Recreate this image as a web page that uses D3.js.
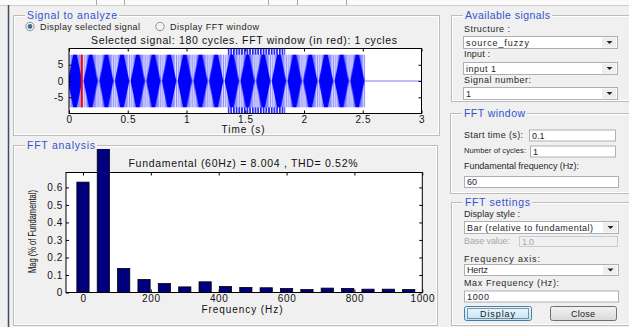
<!DOCTYPE html>
<html>
<head>
<meta charset="utf-8">
<script src="https://cdn.jsdelivr.net/npm/d3@7"></script>
<style>
  body { margin: 0; background: #f0f0f0; }
  svg { display: block; font-family: 'Liberation Sans', Arial, sans-serif; }
</style>
</head>
<body>
<div id="gui"></div>
<script>
// upper axes: selected signal
const timeTicks = [0, 0.5, 1, 1.5, 2, 2.5, 3];
const ampTicks = [-5, 0, 5];
const signalEnd = 2.52;     // signal stops here, flat line after
const signalPeak = 8.1;
const swellStart = 1.35, swellEnd = 1.84, swellPeak = 12;
const fftStart = 0.1, fftCycles = 1, fundHz = 60;

// lower axes: harmonic magnitudes (% of fundamental)
const harmFreq = [0, 60, 120, 180, 240, 300, 360, 420, 480, 540, 600, 660, 720, 780, 840, 900, 960];
const harmMag = [0.63, 100, 0.137, 0.074, 0.051, 0.032, 0.061, 0.034, 0.029, 0.027, 0.023, 0.017, 0.025, 0.023, 0.019, 0.019, 0.017];
const freqTicks = [0, 200, 400, 600, 800, 1000];
const magTicks = [0, 0.1, 0.2, 0.3, 0.4, 0.5, 0.6];

const W = 629, H = 327;
const svg = d3.select('#gui').append('svg')
  .attr('width', W)
  .attr('height', H);

const defs = svg.append('defs');

// text helper, w = wanted width (spreads letters like the old GUI font)
function txt(parent, x, y, s, o) {
  o = o || {};
  const t = parent.append('text').attr('x', x).attr('y', y).attr('dy', '0.35em')
    .attr('font-size', o.size || 9).attr('fill', o.fill || '#222')
    .attr('text-anchor', o.anchor || 'start').text(s);
  if (o.w) t.attr('textLength', o.w).attr('lengthAdjust', 'spacing');
  return t;
}

// window chrome
svg.append('rect').attr('width', W).attr('height', 5).attr('fill', '#fbfbfb');
svg.append('line').attr('x1', 0).attr('x2', W).attr('y1', 5.5).attr('y2', 5.5).attr('stroke', '#cfcfcf');
[96, 124, 268, 297, 346].forEach(x => {
  svg.append('line').attr('x1', x + 0.5).attr('x2', x + 0.5).attr('y1', 0).attr('y2', 5)
    .attr('stroke', '#a8a8a8');
});
svg.append('line').attr('x1', 8.5).attr('x2', 8.5).attr('y1', 5).attr('y2', H)
  .attr('stroke', '#3e4d60').attr('stroke-width', 1.5);

// group box with etched border and blue title
function groupBox(x, y, w, h, title, tw) {
  const g = svg.append('g');
  g.append('rect').attr('x', x + 0.5).attr('y', y + 0.5).attr('width', w).attr('height', h)
    .attr('fill', 'none').attr('stroke', '#bcbcbc');
  g.append('rect').attr('x', x + 1.5).attr('y', y + 1.5).attr('width', w - 2).attr('height', h - 2)
    .attr('fill', 'none').attr('stroke', '#ffffff');
  g.append('rect').attr('x', x + 12).attr('y', y - 5).attr('width', tw + 4).attr('height', 11)
    .attr('fill', '#f0f0f0');
  txt(g, x + 14, y + 0.5, title, { size: 10.5, fill: '#3353cc', w: tw });
}

groupBox(13, 15, 426, 120, 'Signal to analyze', 90);
groupBox(13, 145, 424, 180, 'FFT analysis', 68);
groupBox(451, 15, 200, 86, 'Available signals', 85);
groupBox(450, 113, 200, 80, 'FFT window', 61);
groupBox(451, 202, 200, 123, 'FFT settings', 65);

// small widgets
function label(x, y, s, w, disabled, size) {
  return txt(svg, x, y, s, { w: w, fill: disabled ? '#a9a9a9' : '#262626', size: size });
}
function editBox(x, y, w, h, s, tw, disabled) {
  svg.append('rect').attr('x', x + 0.5).attr('y', y + 0.5).attr('width', w).attr('height', h)
    .attr('fill', disabled ? '#f0f0f0' : '#fff').attr('stroke', disabled ? '#cbcbcb' : '#abb0b8');
  label(x + 3, y + h / 2 + 0.5, s, tw, disabled);
}
function dropDown(x, y, w, h, s, tw) {
  editBox(x, y, w, h, s, tw);
  svg.append('rect').attr('x', x + w - 15).attr('y', y + 1.5).attr('width', 14).attr('height', h - 2)
    .attr('fill', '#eeeeee');
  const cx = x + w - 7.5, cy = y + h / 2 + 0.5;
  svg.append('path').attr('d', `M${cx - 3},${cy - 1.5}L${cx + 3},${cy - 1.5}L${cx},${cy + 1.5}Z`)
    .attr('fill', '#222');
}
function button(x, y, w, h, s, tw, focused) {
  const grad = 'btn' + s;
  const lg = defs.append('linearGradient').attr('id', grad).attr('x1', 0).attr('x2', 0).attr('y1', 0).attr('y2', 1);
  lg.append('stop').attr('offset', 0).attr('stop-color', focused ? '#eaf6fd' : '#f2f2f2');
  lg.append('stop').attr('offset', 1).attr('stop-color', focused ? '#c4e5f6' : '#d9d9d9');
  svg.append('rect').attr('x', x + 0.5).attr('y', y + 0.5).attr('width', w).attr('height', h).attr('rx', 2)
    .attr('fill', `url(#${grad})`).attr('stroke', focused ? '#3c7fb1' : '#707070');
  if (focused) {
    svg.append('rect').attr('x', x + 3.5).attr('y', y + 2.5).attr('width', w - 6).attr('height', h - 4)
      .attr('fill', 'none').attr('stroke', '#333').attr('stroke-dasharray', '1,1');
  }
  txt(svg, x + w / 2, y + h / 2 + 0.5, s, { anchor: 'middle', w: tw });
}

// radio buttons
function radio(cx, cy, on) {
  svg.append('circle').attr('cx', cx).attr('cy', cy).attr('r', 4.2)
    .attr('fill', '#f4f4f4').attr('stroke', '#8e8f8f');
  if (on) {
    svg.append('circle').attr('cx', cx).attr('cy', cy).attr('r', 2.4).attr('fill', '#3f6f9e');
  }
}
radio(30, 26.5, true);
label(40, 26.5, 'Display selected signal', 100);
radio(160, 26.5, false);
label(170, 26.5, 'Display FFT window', 89);

// right side controls
label(464, 29, 'Structure :', 46);
dropDown(463, 36, 154, 12, 'source_fuzzy', 63);
label(464, 54, 'Input :', 26);
dropDown(463, 62, 154, 12, 'input 1', 30);
label(464, 79.5, 'Signal number:', 67);
dropDown(463, 87, 154, 12, '1');

label(464, 135, 'Start time (s):', 59);
editBox(529, 129.5, 86, 11, '0.1');
label(464, 150, 'Number of cycles:', 62, false, 7.6);
editBox(530, 145.5, 85, 11, '1');
label(464, 166, 'Fundamental frequency (Hz):', 115);
editBox(464, 176, 154, 11, '60');

label(464, 213.5, 'Display style :', 56);
dropDown(464, 221, 154, 12, 'Bar (relative to fundamental)', 126);
label(464, 241, 'Base value:', 46, true);
editBox(519, 236, 98, 10, '1.0', 12, true);
label(464, 258.5, 'Frequency axis:', 76);
dropDown(464, 264, 154, 11, 'Hertz', 21);
label(464, 282.5, 'Max Frequency (Hz):', 95);
editBox(464, 290.5, 154, 11, '1000', 22);
button(464, 306, 67, 14, 'Display', 35, true);
button(550, 306, 66, 14, 'Close', 24, false);

function styleAxis(g) {
  g.select('.domain').remove();
  g.selectAll('line').attr('stroke', '#000');
  g.selectAll('text').attr('font-size', 10).attr('letter-spacing', 0.6).attr('fill', '#111');
}

// ---------- upper axes ----------
const xUp = d3.scaleLinear().domain([0, 3]).range([69, 421.5]);
const yUp = d3.scaleLinear().domain([-10, 10]).range([113.5, 48.5]);
const up = svg.append('g');

up.append('rect').attr('x', xUp(0)).attr('y', yUp(10)).attr('width', xUp(3) - xUp(0))
  .attr('height', yUp(-10) - yUp(10)).attr('fill', '#fff');

defs.append('clipPath').attr('id', 'clipUp').append('rect')
  .attr('x', xUp(0)).attr('y', yUp(10)).attr('width', xUp(3) - xUp(0)).attr('height', yUp(-10) - yUp(10));

// aliasing texture of the 60 Hz trace (beat pattern)
const beatW = xUp(0.1335) - xUp(0);
const bandH = yUp(-signalPeak) - yUp(signalPeak);
const beat = defs.append('pattern').attr('id', 'beat').attr('patternUnits', 'userSpaceOnUse')
  .attr('x', xUp(0) - beatW / 2 + 6).attr('y', yUp(signalPeak)).attr('width', beatW).attr('height', bandH);
beat.append('rect').attr('width', beatW).attr('height', bandH).attr('fill', '#8c8cff');
[0.3, 2.4, beatW - 2.2].forEach(x => {
  beat.append('rect').attr('x', x).attr('width', 0.9).attr('height', bandH).attr('fill', '#fff');
});
const c = beatW / 2;
beat.append('path')
  .attr('d', `M${c - 1.8},0L${c + 1.8},0L${c + 7.2},${bandH * 0.5}L${c + 1.8},${bandH}L${c - 1.8},${bandH}L${c - 7.2},${bandH * 0.5}Z`)
  .attr('fill', '#0000ff');

const stripes = defs.append('pattern').attr('id', 'stripes').attr('patternUnits', 'userSpaceOnUse')
  .attr('x', xUp(swellStart)).attr('y', 0).attr('width', 2.7).attr('height', 10);
stripes.append('rect').attr('width', 2.7).attr('height', 10).attr('fill', '#fff');
stripes.append('rect').attr('width', 1.7).attr('height', 10).attr('fill', '#1e1eff');

up.append('rect').attr('clip-path', 'url(#clipUp)')
  .attr('x', xUp(swellStart)).attr('width', xUp(swellEnd) - xUp(swellStart))
  .attr('y', yUp(swellPeak)).attr('height', yUp(-swellPeak) - yUp(swellPeak))
  .attr('fill', 'url(#stripes)');

up.append('rect')
  .attr('x', xUp(0)).attr('width', xUp(signalEnd) - xUp(0))
  .attr('y', yUp(signalPeak)).attr('height', bandH)
  .attr('fill', 'url(#beat)');

up.append('line').attr('x1', xUp(signalEnd)).attr('x2', xUp(3)).attr('y1', yUp(0)).attr('y2', yUp(0))
  .attr('stroke', '#7a7aff').attr('stroke-width', 1.2);

// FFT window in red
up.append('rect')
  .attr('x', xUp(fftStart)).attr('width', xUp(fftStart + fftCycles / fundHz) - xUp(fftStart))
  .attr('y', yUp(signalPeak)).attr('height', bandH)
  .attr('fill', '#ff0000');

up.append('rect').attr('x', xUp(0)).attr('y', yUp(10)).attr('width', xUp(3) - xUp(0))
  .attr('height', yUp(-10) - yUp(10)).attr('fill', 'none').attr('stroke', '#000');

up.append('g').attr('transform', `translate(0,${yUp(-10)})`)
  .call(d3.axisBottom(xUp).tickValues(timeTicks).tickFormat(d => d).tickSizeInner(-3).tickSizeOuter(0).tickPadding(2))
  .call(styleAxis);
up.append('g').attr('transform', `translate(0,${yUp(10)})`)
  .call(d3.axisTop(xUp).tickValues(timeTicks).tickFormat('').tickSizeInner(-3).tickSizeOuter(0))
  .call(styleAxis);
up.append('g').attr('transform', `translate(${xUp(0)},0)`)
  .call(d3.axisLeft(yUp).tickValues(ampTicks).tickFormat(d => d).tickSizeInner(-3).tickSizeOuter(0).tickPadding(5))
  .call(styleAxis);
up.append('g').attr('transform', `translate(${xUp(3)},0)`)
  .call(d3.axisRight(yUp).tickValues(ampTicks).tickFormat('').tickSizeInner(-3).tickSizeOuter(0))
  .call(styleAxis);

txt(up, 244, 40.5, 'Selected signal: 180 cycles. FFT window (in red): 1 cycles',
  { size: 10.5, fill: '#111', anchor: 'middle', w: 306 });
txt(up, 243, 129.5, 'Time (s)', { size: 10, fill: '#111', anchor: 'middle', w: 43 });

// ---------- FFT axes ----------
const xF = d3.scaleLinear().domain([-50, 1000]).range([66, 422.3]);
const yF = d3.scaleLinear().domain([0, 0.685]).range([292.5, 172.5]);
const ff = svg.append('g');

ff.append('rect').attr('x', xF(-50)).attr('y', yF(0.685)).attr('width', xF(1000) - xF(-50))
  .attr('height', yF(0) - yF(0.685)).attr('fill', '#fff').attr('stroke', '#000');

// fundamental bar runs off the axes, cut at the panel edge
defs.append('clipPath').attr('id', 'clipF').append('rect')
  .attr('x', 0).attr('y', 149).attr('width', W).attr('height', yF(0) - 149 + 1);

const barHalf = 18;
ff.append('g').attr('clip-path', 'url(#clipF)')
  .selectAll('rect')
  .data(harmFreq)
  .enter()
  .append('rect')
  .attr('x', (d) => xF(d - barHalf))
  .attr('width', (d) => xF(d + barHalf) - xF(d - barHalf))
  .attr('y', (d, i) => yF(harmMag[i]))
  .attr('height', (d, i) => yF(0) - yF(harmMag[i]))
  .attr('fill', '#00007f')
  .attr('stroke', '#000')
  .attr('stroke-width', 0.8);

ff.append('g').attr('transform', `translate(0,${yF(0)})`)
  .call(d3.axisBottom(xF).tickValues(freqTicks).tickFormat(d => d).tickSizeInner(-3).tickSizeOuter(0).tickPadding(2))
  .call(styleAxis);
ff.append('g').attr('transform', `translate(0,${yF(0.685)})`)
  .call(d3.axisTop(xF).tickValues(freqTicks).tickFormat('').tickSizeInner(-3).tickSizeOuter(0))
  .call(styleAxis);
ff.append('g').attr('transform', `translate(${xF(-50)},0)`)
  .call(d3.axisLeft(yF).tickValues(magTicks).tickFormat(d => d).tickSizeInner(-3).tickSizeOuter(0).tickPadding(3))
  .call(styleAxis);
ff.append('g').attr('transform', `translate(${xF(1000)},0)`)
  .call(d3.axisRight(yF).tickValues(magTicks).tickFormat('').tickSizeInner(-3).tickSizeOuter(0))
  .call(styleAxis);

txt(ff, 243, 163.5, 'Fundamental (60Hz) = 8.004 , THD= 0.52%',
  { size: 10.5, fill: '#111', anchor: 'middle', w: 229 });
txt(ff, 242, 309.5, 'Frequency (Hz)', { size: 10, fill: '#111', anchor: 'middle', w: 81 });
ff.append('text').attr('transform', 'translate(32,231.5) rotate(-90)').attr('dy', '0.35em')
  .attr('text-anchor', 'middle').attr('font-size', 10).attr('fill', '#111')
  .attr('textLength', 83).attr('lengthAdjust', 'spacingAndGlyphs')
  .text('Mag (% of Fundamental)');
</script>
</body>
</html>
